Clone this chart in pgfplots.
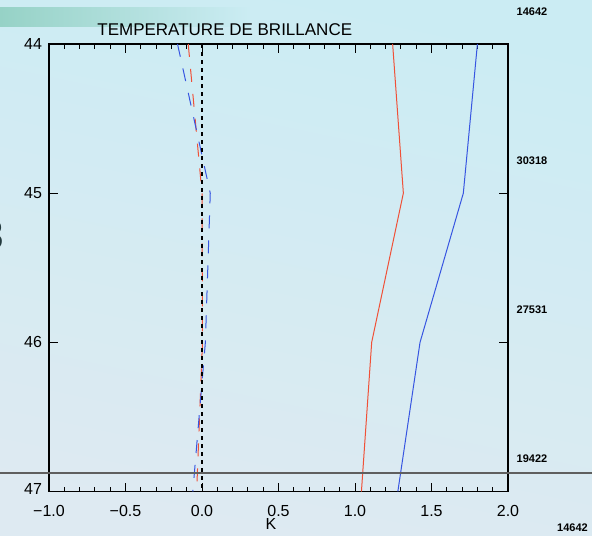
\documentclass[border=0pt]{standalone}
\usepackage{pgfplots}
\pgfplotsset{compat=1.18}
\usepackage{fontspec}
\setmainfont{Liberation Sans}
\definecolor{bgtop}{RGB}{203,236,243}
\definecolor{bgmid}{RGB}{188,209,214}
\definecolor{bgbot}{RGB}{222,234,242}
\definecolor{teal1}{RGB}{150,210,198}
\definecolor{myred}{RGB}{240,80,55}
\definecolor{myblue}{RGB}{55,85,225}
\definecolor{glyph}{RGB}{35,58,62}
\begin{document}
\begin{tikzpicture}
\shade[top color=bgtop, middle color=bgmid, bottom color=bgbot, shading angle=-12] (-24.5pt,-21.75pt) rectangle (271.5pt,245.75pt);
\shade[left color=teal1, right color=bgtop] (-24.5pt,232.25pt) rectangle (100pt,241.75pt);
\node[anchor=east, inner sep=0pt, text=glyph] at (-22.5pt,128.25pt) {\fontsize{21}{21}\selectfont\bfseries 3};
\begin{axis}[
  at={(0pt,0pt)}, anchor=south west,
  scale only axis, width=229.5pt, height=223.75pt,
  xmin=-1, xmax=2, ymin=44, ymax=47, y dir=reverse,
  xtick={-1,-0.5,0,0.5,1,1.5,2},
  xticklabels={−1.0,−0.5,0.0,0.5,1.0,1.5,2.0},
  minor x tick num=4,
  ytick={44,45,46,47},
  yticklabels={\raisebox{-3pt}{44},45,46,\raisebox{2.5pt}{47}},
  tick align=inside,
  major tick length=4.5pt, minor tick length=2.3pt,
  tick style={black, line width=0.5pt},
  axis line style={black, line width=0.65pt},
  tick label style={font=\fontsize{8}{9.6}\selectfont},
  xticklabel style={yshift=-3.25pt},
  clip=false,
]
\addplot[myred, line width=0.5pt] coordinates {(1.246,44) (1.316,45) (1.109,46) (1.042,47)};
\addplot[myblue, line width=0.5pt] coordinates {(1.800,44) (1.708,45) (1.425,46) (1.280,47)};
\addplot[myred, line width=0.5pt, dash pattern=on 6.5pt off 6pt] coordinates {(-0.09,44) (0.0,45) (0.003,46) (-0.035,47)};
\addplot[myblue, line width=0.5pt, dash pattern=on 6.5pt off 6pt] coordinates {(-0.16,44) (0.054,45) (0.022,46) (-0.06,47)};
\addplot[black, line width=0.7pt, dash pattern=on 2pt off 2pt] coordinates {(0,44) (0,47)};
\end{axis}
\draw[color={rgb,255:red,95;green,95;blue,95}, line width=1pt] (-24.5pt,9.25pt) -- (271.5pt,9.25pt);
\node[anchor=base west, inner sep=0pt] at (24pt,227.75pt) {\fontsize{8.5}{10}\selectfont TEMPERATURE DE BRILLANCE};
\node[inner sep=0pt] at (111pt,-16.25pt) {\fontsize{8}{9.6}\selectfont K};
\begin{scope}[every node/.style={inner sep=0pt, font=\fontsize{5.5}{6.6}\selectfont\bfseries}]
\node at (241.5pt,239.75pt) {14642};
\node at (241.5pt,165.25pt) {30318};
\node at (241.5pt,90.75pt) {27531};
\node at (241.5pt,16.25pt) {19422};
\node at (261.75pt,-18.25pt) {14642};
\end{scope}
\pgfresetboundingbox
\path[use as bounding box] (-24.5pt,-21.75pt) rectangle (271.5pt,245.75pt);
\end{tikzpicture}
\end{document}
